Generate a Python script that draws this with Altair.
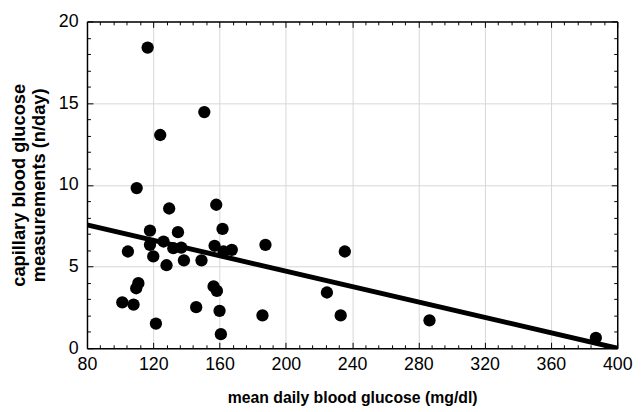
import altair as alt
import pandas as pd

glucose = [116.6, 150.8, 124.2, 110.0, 129.6, 158.0, 118.0, 134.9, 161.8, 126.2,
           118.0, 132.1, 136.9, 157.0, 167.4, 162.4, 187.7, 104.7, 120.0, 138.5,
           149.1, 128.0, 111.0, 109.7, 156.4, 158.4, 101.3, 108.1, 145.9, 160.0,
           185.9, 121.6, 160.8, 235.6, 224.8, 233.1, 286.7, 387.1]
measurements = [18.4, 14.45, 13.05, 9.8, 8.55, 8.78, 7.2, 7.1, 7.3, 6.53,
                6.33, 6.12, 6.16, 6.27, 6.02, 5.92, 6.33, 5.92, 5.62, 5.38,
                5.38, 5.08, 3.98, 3.67, 3.78, 3.51, 2.81, 2.67, 2.51, 2.29,
                2.01, 1.51, 0.86, 5.92, 3.41, 2.01, 1.71, 0.64]
fit_x = [80, 400]
fit_y = [7.55, 0.0]

x_major = [80, 120, 160, 200, 240, 280, 320, 360, 400]
x_minor = list(range(80, 401, 8))
y_major = [0, 5, 10, 15, 20]
y_minor = list(range(0, 21, 1))

pts = pd.DataFrame({"g": glucose, "m": measurements})
fit = pd.DataFrame({"g": fit_x, "m": fit_y})

W, H = 537, 331
FONT = "Liberation Sans"

xs = alt.Scale(domain=[80, 400], nice=False, zero=False)
ys = alt.Scale(domain=[0, 20], nice=False, zero=False)

tick_x = {"condition": {"test": "datum.value % 40 === 0", "value": 6}, "value": 3.5}
tick_y = {"condition": {"test": "datum.value % 5 === 0", "value": 6}, "value": 3.5}

points = alt.Chart(pts).mark_circle(color="black", opacity=1, size=155).encode(
    x=alt.X("g:Q", scale=xs, axis=alt.Axis(
        orient="bottom", values=x_major, title="mean daily blood glucose (mg/dl)",
        grid=True, gridColor="#d6d6d6", gridWidth=1, tickSize=0,
        labelFlush=False, labelOverlap=False, labelBound=False,
        domain=True, domainColor="black", domainWidth=1.5,
        labelFont=FONT, labelFontSize=18, labelColor="black", labelPadding=8,
        titleFont=FONT, titleFontSize=16, titleFontWeight="bold", titleColor="black",
        titlePadding=16)),
    y=alt.Y("m:Q", scale=ys, axis=alt.Axis(
        orient="left", values=y_major,
        title=["capillary blood glucose", "measurements (n/day)"],
        grid=True, gridColor="#d6d6d6", gridWidth=1, tickSize=0,
        labelFlush=False, labelOverlap=False, labelBound=False,
        domain=True, domainColor="black", domainWidth=1.5,
        labelFont=FONT, labelFontSize=18, labelColor="black", labelPadding=9,
        titleFont=FONT, titleFontSize=18.5, titleFontWeight="bold", titleColor="black",
        titlePadding=10, titleLineHeight=20)),
)

line = alt.Chart(fit).mark_line(color="black", strokeWidth=5, clip=True).encode(
    x=alt.X("g:Q", scale=xs, axis=alt.Axis(
        orient="top", offset=-H, values=x_minor, labels=False, title=None, grid=False,
        domain=False, tickColor="black", tickWidth=1, tickSize=tick_x)),
    y=alt.Y("m:Q", scale=ys, axis=alt.Axis(
        orient="right", offset=-W, values=y_minor, labels=False, title=None, grid=False,
        domain=False, tickColor="black", tickWidth=1, tickSize=tick_y)),
)

frame = alt.Chart(fit).mark_line(opacity=0).encode(
    x=alt.X("g:Q", scale=xs, axis=alt.Axis(
        orient="bottom", offset=-H, values=x_minor, labels=False, title=None, grid=False,
        domain=True, domainColor="black", domainWidth=1.5,
        tickColor="black", tickWidth=1, tickSize=tick_x)),
    y=alt.Y("m:Q", scale=ys, axis=alt.Axis(
        orient="left", offset=-W, values=y_minor, labels=False, title=None, grid=False,
        domain=True, domainColor="black", domainWidth=1.5,
        tickColor="black", tickWidth=1, tickSize=tick_y)),
)

chart = alt.layer(points, line, frame).resolve_axis(
    x="independent", y="independent"
).properties(
    width=W, height=H,
    autosize=alt.AutoSizeParams(type="none"),
    padding={"left": 80, "top": 11, "right": 18, "bottom": 62},
    background="white",
).configure_view(stroke=None)

chart.save("out.html", embed_options={"renderer": "svg", "actions": False})
